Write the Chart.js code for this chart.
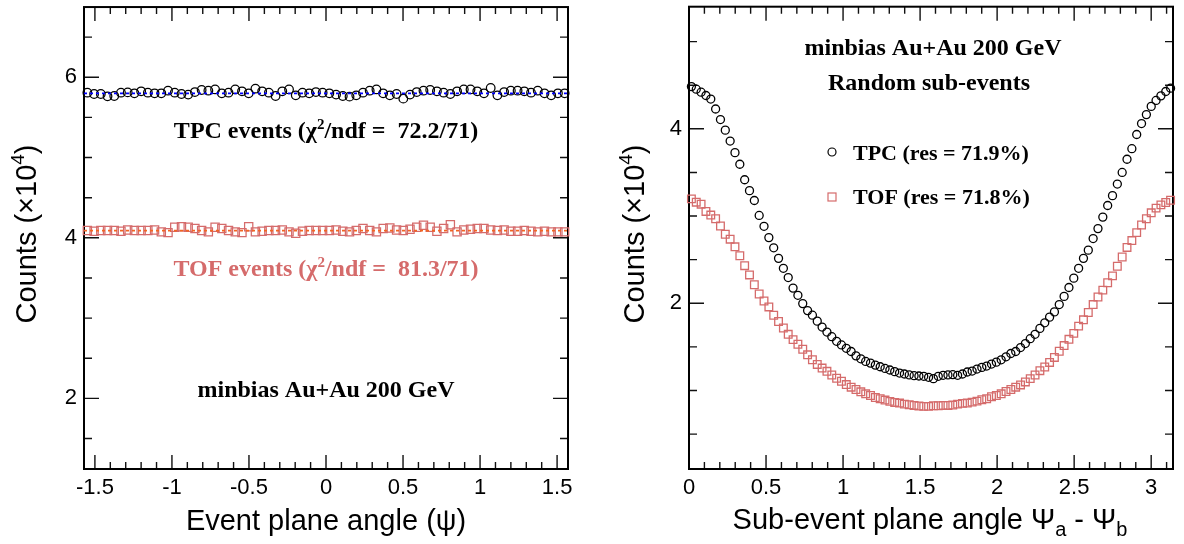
<!DOCTYPE html>
<html><head><meta charset="utf-8">
<script src="https://cdn.jsdelivr.net/npm/chart.js@4.4.1/dist/chart.umd.min.js"></script>
<style>
html,body{margin:0;padding:0;background:#fff;}
#wrap{position:relative;width:1184px;height:544px;overflow:hidden;background:#fff;}
canvas{position:absolute;top:0;}
</style></head><body>
<div id="wrap">
<canvas id="left" width="592" height="544" style="left:0"></canvas>
<canvas id="right" width="592" height="544" style="left:592px"></canvas>
</div>
<script>
// ---------- DATA ----------
const leftBinCount = 72;
const leftXRange = [-Math.PI / 2, Math.PI / 2];
const leftYRange = [1.12, 6.875];
const tpcEventCounts = [
  5.808,5.792,5.792,5.763,5.767,5.808,5.812,5.800,5.825,5.808,
  5.800,5.800,5.833,5.808,5.792,5.784,5.816,5.841,5.833,5.849,
  5.800,5.808,5.849,5.825,5.800,5.858,5.825,5.808,5.767,5.825,
  5.849,5.775,5.808,5.800,5.816,5.808,5.800,5.784,5.767,5.759,
  5.775,5.808,5.833,5.849,5.800,5.775,5.792,5.734,5.784,5.816,
  5.833,5.841,5.825,5.808,5.792,5.825,5.849,5.849,5.825,5.800,
  5.866,5.775,5.816,5.833,5.833,5.825,5.808,5.833,5.800,5.775,
  5.800,5.800];
const tofEventCounts = [
  4.090,4.082,4.090,4.090,4.090,4.082,4.098,4.090,4.090,4.090,
  4.098,4.074,4.065,4.131,4.139,4.131,4.115,4.090,4.074,4.131,
  4.115,4.090,4.074,4.065,4.139,4.074,4.082,4.090,4.090,4.098,
  4.074,4.057,4.082,4.090,4.090,4.090,4.090,4.098,4.082,4.074,
  4.090,4.115,4.090,4.074,4.115,4.123,4.098,4.090,4.106,4.131,
  4.156,4.131,4.082,4.115,4.164,4.074,4.098,4.106,4.115,4.115,
  4.098,4.090,4.098,4.082,4.082,4.090,4.082,4.074,4.082,4.074,
  4.074,4.074];
const tpcFitLevel = 5.80;
const tofFitLevel = 4.09;

const rightBinCount = 100;
const rightXRange = [0, Math.PI];
const rightYRange = [0.10, 5.40];
const tpcSubEventCounts = [
  4.484,4.454,4.420,4.382,4.341,4.227,4.106,3.985,3.860,3.727,
  3.594,3.416,3.291,3.178,3.007,2.882,2.753,2.636,2.515,2.401,
  2.295,2.174,2.091,1.996,1.916,1.863,1.795,1.727,1.670,1.617,
  1.564,1.522,1.484,1.447,1.397,1.363,1.333,1.314,1.291,1.272,
  1.253,1.235,1.216,1.200,1.189,1.178,1.170,1.166,1.163,1.151,
  1.136,1.163,1.174,1.178,1.181,1.174,1.189,1.212,1.223,1.246,
  1.265,1.280,1.303,1.325,1.352,1.386,1.424,1.447,1.492,1.538,
  1.594,1.644,1.712,1.776,1.841,1.901,1.985,2.079,2.181,2.288,
  2.401,2.515,2.609,2.742,2.856,2.988,3.121,3.234,3.367,3.500,
  3.651,3.772,3.935,4.060,4.163,4.257,4.325,4.378,4.428,4.466];
const tofSubEventCounts = [
  3.197,3.159,3.136,3.053,3.011,2.969,2.886,2.791,2.735,2.647,
  2.545,2.431,2.325,2.212,2.106,2.026,1.958,1.863,1.791,1.716,
  1.644,1.583,1.530,1.473,1.409,1.352,1.299,1.257,1.220,1.178,
  1.140,1.106,1.068,1.038,1.011,0.985,0.962,0.943,0.920,0.905,
  0.890,0.875,0.863,0.856,0.844,0.837,0.829,0.822,0.818,0.818,
  0.825,0.825,0.829,0.829,0.833,0.844,0.852,0.856,0.867,0.878,
  0.894,0.905,0.928,0.943,0.962,0.988,1.011,1.038,1.064,1.098,
  1.136,1.178,1.227,1.269,1.322,1.379,1.450,1.515,1.587,1.655,
  1.738,1.810,1.894,1.985,2.072,2.151,2.235,2.314,2.424,2.530,
  2.640,2.719,2.810,2.897,2.969,3.037,3.091,3.128,3.155,3.181];

const leftXTicks = [-1.5, -1, -0.5, 0, 0.5, 1, 1.5];
const leftXTickLabels = ['-1.5', '-1', '-0.5', '0', '0.5', '1', '1.5'];
const leftYTicks = [2, 4, 6];
const leftYTickLabels = ['2', '4', '6'];
const rightXTicks = [0, 0.5, 1, 1.5, 2, 2.5, 3];
const rightXTickLabels = ['0', '0.5', '1', '1.5', '2', '2.5', '3'];
const rightYTicks = [2, 4];
const rightYTickLabels = ['2', '4'];

// ---------- HELPERS ----------
const TOF_COLOR = '#d56b6b';
const SANS = "'Liberation Sans', Arial, sans-serif";
const SERIF = "'Liberation Serif', 'Times New Roman', serif";

function binCenters(n, range) {
  const w = (range[1] - range[0]) / n;
  const out = [];
  for (let i = 0; i < n; i++) out.push(range[0] + (i + 0.5) * w);
  return out;
}
function toPoints(values, range) {
  const c = binCenters(values.length, range);
  return values.map((v, i) => ({ x: c[i], y: v }));
}

function drawRich(ctx, parts, x, y, o) {
  let total = 0;
  const m = parts.map(p => {
    const size = p.size || o.size;
    ctx.font = `${o.weight || 'normal'} ${size}px ${o.family}`;
    const w = ctx.measureText(p.t).width;
    total += w;
    return { p, size, w };
  });
  let cx = o.align === 'left' ? x : x - total / 2;
  ctx.fillStyle = o.color || '#000';
  ctx.textAlign = 'left';
  ctx.textBaseline = 'alphabetic';
  m.forEach(it => {
    ctx.font = `${o.weight || 'normal'} ${it.size}px ${o.family}`;
    ctx.fillText(it.p.t, cx, y + (it.p.dy || 0));
    cx += it.w;
  });
}

function framePlugin(cfg) {
  return {
    id: 'rootframe',
    beforeDatasetsDraw(chart) {
      const { ctx, chartArea: a, scales: { x, y } } = chart;
      ctx.save();
      ctx.strokeStyle = '#111';
      ctx.lineWidth = 1.4;
      ctx.beginPath();
      for (let k = Math.ceil(x.min * 10 - 1e-6); k <= Math.floor(x.max * 10 + 1e-6); k++) {
        const px = x.getPixelForValue(k / 10);
        const len = (k % 5 === 0) ? 14 : 7;
        ctx.moveTo(px, a.bottom); ctx.lineTo(px, a.bottom - len);
        ctx.moveTo(px, a.top); ctx.lineTo(px, a.top + len);
      }
      for (let k = Math.ceil(y.min * 2 - 1e-6); k <= Math.floor(y.max * 2 + 1e-6); k++) {
        const py = y.getPixelForValue(k / 2);
        const len = (k % 4 === 0) ? 15 : 8;
        ctx.moveTo(a.left, py); ctx.lineTo(a.left + len, py);
        ctx.moveTo(a.right, py); ctx.lineTo(a.right - len, py);
      }
      ctx.stroke();
      ctx.lineWidth = 2;
      ctx.strokeStyle = '#000';
      ctx.strokeRect(a.left, a.top, a.right - a.left, a.bottom - a.top);
      ctx.restore();
    },
    afterDraw(chart) {
      const ctx = chart.ctx;
      ctx.save();
      cfg.drawText(ctx, chart);
      ctx.restore();
    }
  };
}

function makeChart(canvas, cfg) {
  return new Chart(canvas, {
    type: 'scatter',
    data: { datasets: cfg.datasets },
    options: {
      responsive: false,
      animation: false,
      devicePixelRatio: 1,
      events: [],
      layout: { padding: { top: 3, right: cfg.padRight, left: 0, bottom: 0 } },
      plugins: { legend: { display: false }, tooltip: { enabled: false } },
      scales: {
        x: {
          type: 'linear', min: cfg.xRange[0], max: cfg.xRange[1],
          grid: { display: false, drawTicks: false }, border: { display: false },
          ticks: {
            font: { family: SANS, size: 22 }, color: '#000', padding: 6,
            maxRotation: 0, minRotation: 0, autoSkip: false,
            callback: (v, i) => cfg.xLabels[i]
          },
          afterBuildTicks: s => { s.ticks = cfg.xTicks.map(v => ({ value: v })); },
          afterFit: s => { s.height = 75; s.paddingLeft = 0; s.paddingRight = 0; }
        },
        y: {
          type: 'linear', min: cfg.yRange[0], max: cfg.yRange[1],
          grid: { display: false, drawTicks: false }, border: { display: false },
          ticks: {
            font: { family: SANS, size: 22 }, color: '#000', padding: 7,
            autoSkip: false,
            callback: (v, i) => cfg.yLabels[i]
          },
          afterBuildTicks: s => { s.ticks = cfg.yTicks.map(v => ({ value: v })); },
          afterFit: s => { s.width = cfg.yWidth; s.paddingTop = 0; s.paddingBottom = 0; }
        }
      }
    },
    plugins: [framePlugin(cfg)]
  });
}

// ---------- LEFT PANEL ----------
makeChart(document.getElementById('left'), {
  xRange: leftXRange, yRange: leftYRange,
  xTicks: leftXTicks, xLabels: leftXTickLabels,
  yTicks: leftYTicks, yLabels: leftYTickLabels,
  yWidth: 84, padRight: 24,
  datasets: [
    { label: 'TPC fit', data: [{ x: leftXRange[0], y: tpcFitLevel }, { x: leftXRange[1], y: tpcFitLevel }],
      showLine: true, pointRadius: 0, borderColor: '#0000ff', borderWidth: 1.8, borderDash: [3, 3] },
    { label: 'TOF fit', data: [{ x: leftXRange[0], y: tofFitLevel }, { x: leftXRange[1], y: tofFitLevel }],
      showLine: true, pointRadius: 0, borderColor: '#f26522', borderWidth: 1.8, borderDash: [3, 3] },
    { label: 'TPC', data: toPoints(tpcEventCounts, leftXRange), showLine: false, clip: false,
      pointStyle: 'circle', pointRadius: 4.3, pointBorderWidth: 1.25,
      pointBorderColor: '#000', pointBackgroundColor: 'rgba(0,0,0,0)' },
    { label: 'TOF', data: toPoints(tofEventCounts, leftXRange), showLine: false, clip: false,
      pointStyle: 'rect', pointRadius: 5.8, pointBorderWidth: 1.25,
      pointBorderColor: TOF_COLOR, pointBackgroundColor: 'rgba(0,0,0,0)' }
  ],
  drawText(ctx, chart) {
    const serifB = { family: SERIF, weight: 'bold', size: 24, align: 'center' };
    drawRich(ctx, [{ t: 'TPC events (χ' }, { t: '2', size: 15, dy: -9 }, { t: '/ndf =  72.2/71)' }],
      326, 138, Object.assign({}, serifB, { color: '#000' }));
    drawRich(ctx, [{ t: 'TOF events (χ' }, { t: '2', size: 15, dy: -9 }, { t: '/ndf =  81.3/71)' }],
      326, 276, Object.assign({}, serifB, { color: TOF_COLOR }));
    drawRich(ctx, [{ t: 'minbias Au+Au 200 GeV' }], 326, 397, Object.assign({}, serifB, { color: '#000' }));
    // axis titles
    drawRich(ctx, [{ t: 'Event plane angle (ψ)' }], 326, 530, { family: SANS, size: 29, align: 'center', color: '#000' });
    ctx.save();
    ctx.translate(36, 234);
    ctx.rotate(-Math.PI / 2);
    drawRich(ctx, [{ t: 'Counts (×10' }, { t: '4', size: 19, dy: -12 }, { t: ')' }], 0, 0,
      { family: SANS, size: 29, align: 'center', color: '#000' });
    ctx.restore();
  }
});

// ---------- RIGHT PANEL ----------
makeChart(document.getElementById('right'), {
  xRange: rightXRange, yRange: rightYRange,
  xTicks: rightXTicks, xLabels: rightXTickLabels,
  yTicks: rightYTicks, yLabels: rightYTickLabels,
  yWidth: 97, padRight: 11,
  datasets: [
    { label: 'TPC', data: toPoints(tpcSubEventCounts, rightXRange), showLine: false, clip: false,
      pointStyle: 'circle', pointRadius: 4, pointBorderWidth: 1.3,
      pointBorderColor: '#000', pointBackgroundColor: 'rgba(0,0,0,0)' },
    { label: 'TOF', data: toPoints(tofSubEventCounts, rightXRange), showLine: false, clip: false,
      pointStyle: 'rect', pointRadius: 5.4, pointBorderWidth: 1.3,
      pointBorderColor: TOF_COLOR, pointBackgroundColor: 'rgba(0,0,0,0)' }
  ],
  drawText(ctx, chart) {
    const serifB = { family: SERIF, weight: 'bold', size: 24, align: 'center', color: '#000' };
    drawRich(ctx, [{ t: 'minbias Au+Au 200 GeV' }], 341, 55, serifB);
    drawRich(ctx, [{ t: 'Random sub-events' }], 337, 90, serifB);
    const leg = { family: SERIF, weight: 'bold', size: 22, align: 'left', color: '#000' };
    drawRich(ctx, [{ t: 'TPC (res = 71.9%)' }], 261, 160, leg);
    drawRich(ctx, [{ t: 'TOF (res = 71.8%)' }], 261, 204, leg);
    // legend markers
    ctx.lineWidth = 1.2;
    ctx.strokeStyle = '#000';
    ctx.beginPath(); ctx.arc(240, 152, 4, 0, Math.PI * 2); ctx.stroke();
    ctx.strokeStyle = TOF_COLOR;
    ctx.strokeRect(236, 193, 8, 8);
    // axis titles
    drawRich(ctx, [{ t: 'Sub-event plane angle Ψ' }, { t: 'a', size: 20, dy: 7 }, { t: ' - Ψ' }, { t: 'b', size: 20, dy: 7 }],
      338, 529, { family: SANS, size: 29, align: 'center', color: '#000' });
    ctx.save();
    ctx.translate(52, 234);
    ctx.rotate(-Math.PI / 2);
    drawRich(ctx, [{ t: 'Counts (×10' }, { t: '4', size: 19, dy: -12 }, { t: ')' }], 0, 0,
      { family: SANS, size: 29, align: 'center', color: '#000' });
    ctx.restore();
  }
});
</script>
</body></html>
